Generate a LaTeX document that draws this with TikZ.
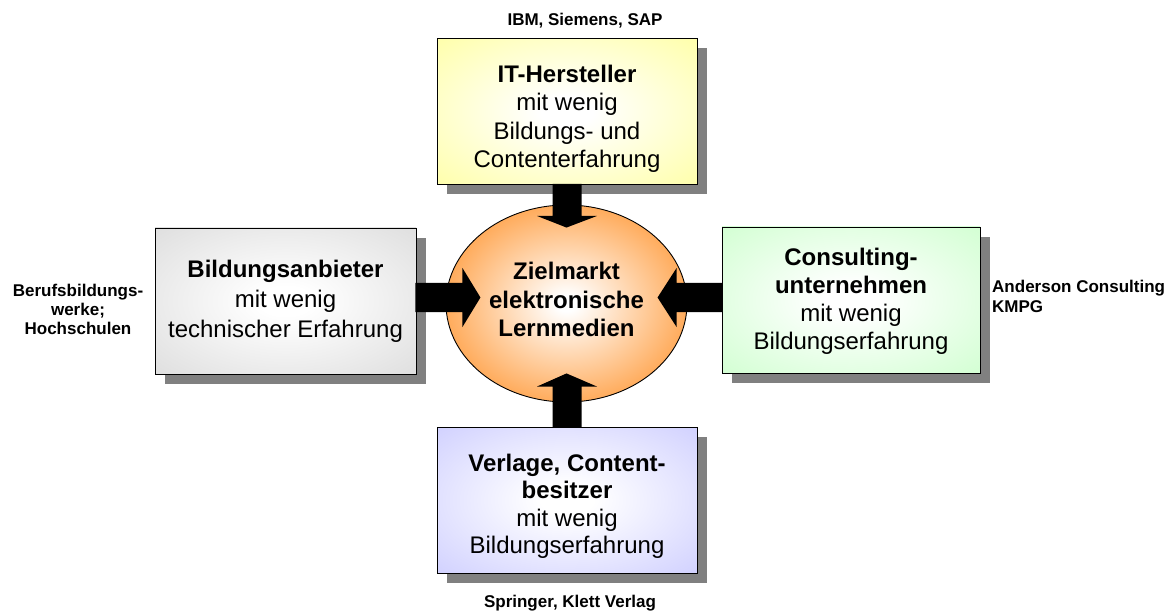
\documentclass[tikz,border=0pt]{standalone}
\usepackage{fontspec}
\setmainfont{Liberation Sans}
\usetikzlibrary{calc,shadows,shapes.geometric}

\definecolor{itYellow}{RGB}{255,255,150}
\definecolor{eduGray}{RGB}{215,215,215}
\definecolor{consGreen}{RGB}{200,255,200}
\definecolor{pubBlue}{RGB}{198,198,255}
\definecolor{marketOrange}{RGB}{255,150,50}
\definecolor{shadowGray}{RGB}{128,128,128}

% white core fading to the panel colour towards the border
\pgfdeclareradialshading{glowYellow}{\pgfpoint{0bp}{0bp}}{color(0bp)=(white); color(5bp)=(white); color(43bp)=(itYellow); color(100bp)=(itYellow)}
\pgfdeclareradialshading{glowGray}{\pgfpoint{0bp}{0bp}}{color(0bp)=(white); color(5bp)=(white); color(43bp)=(eduGray); color(100bp)=(eduGray)}
\pgfdeclareradialshading{glowGreen}{\pgfpoint{0bp}{0bp}}{color(0bp)=(white); color(5bp)=(white); color(43bp)=(consGreen); color(100bp)=(consGreen)}
\pgfdeclareradialshading{glowBlue}{\pgfpoint{0bp}{0bp}}{color(0bp)=(white); color(5bp)=(white); color(43bp)=(pubBlue); color(100bp)=(pubBlue)}
\pgfdeclareradialshading{glowOrange}{\pgfpoint{0bp}{0bp}}{color(0bp)=(white); color(2bp)=(white); color(31bp)=(marketOrange); color(100bp)=(marketOrange)}

\tikzset{
  panel/.style={draw=black, line width=0.9pt, minimum width=260pt, minimum height=146pt,
    align=center, inner sep=0pt, font=\fontsize{24}{27}\selectfont,
    drop shadow={shadow xshift=10pt, shadow yshift=-10pt, fill=shadowGray, opacity=1}},
  market/.style={ellipse, draw=black, line width=0.9pt, minimum width=241pt, minimum height=197pt,
    inner sep=0pt, align=center, shading=glowOrange, font=\bfseries\fontsize{24}{28.5}\selectfont},
  tag/.style={inner sep=0pt, font=\bfseries\fontsize{17}{19}\selectfont},
  fat/.style={fill=black}
}

\begin{document}
\begin{tikzpicture}[x=1pt, y=-1pt]
  \fill[white] (0,0) rectangle (1172,612);
  \useasboundingbox (0,0) rectangle (1172,612);

  % the four supplier groups
  \node[panel, shading=glowYellow, font=\fontsize{24}{28.5}\selectfont] (top) at (567,111.5)
    {\rule{0pt}{31.5pt}\textbf{IT-Hersteller}\\mit wenig\\Bildungs- und\\Contenterfahrung};
  \node[panel, shading=glowGray, minimum width=261pt, font=\fontsize{24}{30}\selectfont] (left) at (285.5,301)
    {\textbf{Bildungsanbieter}\\mit wenig\\technischer Erfahrung};
  \node[panel, shading=glowGreen, minimum width=258pt, font=\fontsize{24}{28}\selectfont] (right) at (851,300)
    {\rule{0pt}{20pt}\textbf{Consulting-}\\\textbf{unternehmen}\\mit wenig\\Bildungserfahrung};
  \node[panel, shading=glowBlue, font=\fontsize{24}{27.5}\selectfont] (bottom) at (567,500)
    {\rule{0pt}{29.5pt}\textbf{Verlage, Content-}\\\textbf{besitzer}\\mit wenig\\Bildungserfahrung};

  % the target market
  \node[market] (ell) at (566.5,303.5) {Zielmarkt\\elektronische\\Lernmedien\rule[-8pt]{0pt}{8pt}};

  % example companies
  \node[tag, anchor=base] (ibm) at (585,26) {IBM, Siemens, SAP};
  \node[tag, anchor=base] (spr) at (570,607.5) {Springer, Klett Verlag};
  \node[tag, align=center, anchor=north] (beruf) at (78,283.5) {Berufsbildungs-\\werke;\\Hochschulen};
  \node[tag, align=left, anchor=north west, font=\bfseries\fontsize{17}{20.5}\selectfont] (ander) at (992,279.5) {Anderson Consulting\\KMPG};

  % block arrows pointing into the market
  \coordinate (ta) at (top.south);
  \fill[fat] ($(ta)+(-14.5,-1)$) -- ($(ta)+(-14.5,31)$) -- ($(ta)+(-30,31)$) -- ($(ell.north)+(0,23)$)
    -- ($(ta)+(30,31)$) -- ($(ta)+(14.5,31)$) -- ($(ta)+(14.5,-1)$) -- cycle;

  \coordinate (ba) at (bottom.north);
  \fill[fat] ($(ba)+(-14.5,1)$) -- ($(ba)+(-14.5,-40)$) -- ($(ba)+(-30,-40)$) -- ($(ell.south)+(0,-29)$)
    -- ($(ba)+(30,-40)$) -- ($(ba)+(14.5,-40)$) -- ($(ba)+(14.5,1)$) -- cycle;

  \coordinate (la) at ($(left.east)+(0,-3.5)$);
  \fill[fat] ($(la)+(-1,-14.5)$) -- ($(la)+(46,-14.5)$) -- ($(la)+(46,-29.5)$) -- ($(la)+(64,0)$)
    -- ($(la)+(46,29.5)$) -- ($(la)+(46,14.5)$) -- ($(la)+(-1,14.5)$) -- cycle;

  \coordinate (ra) at ($(right.west)+(0,-2.5)$);
  \fill[fat] ($(ra)+(1,-14.5)$) -- ($(ra)+(-45,-14.5)$) -- ($(ra)+(-45,-29.5)$) -- ($(ra)+(-64,0)$)
    -- ($(ra)+(-45,29.5)$) -- ($(ra)+(-45,14.5)$) -- ($(ra)+(1,14.5)$) -- cycle;
\end{tikzpicture}
\end{document}
